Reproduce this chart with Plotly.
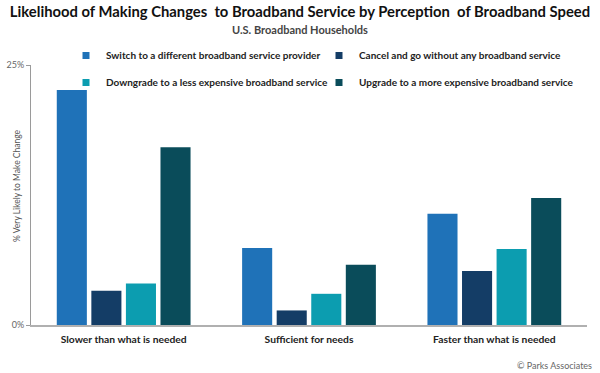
import plotly.graph_objects as go

categories = ["Slower than what is needed", "Sufficient for needs", "Faster than what is needed"]
series_names = [
    "Switch to a different broadband service provider",
    "Cancel and go without any broadband service",
    "Downgrade to a less expensive broadband service",
    "Upgrade to a more expensive broadband service",
]
switch_vals = [22.6, 7.4, 10.7]
cancel_vals = [3.3, 1.4, 5.2]
downgrade_vals = [4.0, 3.0, 7.3]
upgrade_vals = [17.1, 5.8, 12.2]
colors = ["#1f72b8", "#143d66", "#0c9db0", "#0a4c5a"]
y_tickvals = [0, 25]
y_ticktext = ["0%", "25%"]

series_vals = [switch_vals, cancel_vals, downgrade_vals, upgrade_vals]
legend_of = ["legend", "legend2", "legend", "legend2"]

W, H = 600, 373
ML, MR, MT, MB = 31, 13, 65, 48
PW, PH = W - ML - MR, H - MT - MB


def px_x(px):
    return (px - ML) / PW


def px_y(py):
    return (H - MB - py) / PH


fig = go.Figure()
for name, vals, col in zip(series_names, series_vals, colors):
    fig.add_trace(go.Bar(x=categories, y=vals, name=name, marker_color=col,
                         marker_line_width=0, showlegend=False))
# legend-only swatches (small squares like the reference)
for i, (name, col) in enumerate(zip(series_names, colors)):
    fig.add_trace(go.Scatter(x=[categories[0]], y=[None], mode="markers", name=name,
                             marker=dict(symbol="square", size=7, color=col),
                             legend=legend_of[i], legendgroup=f"g{i}", showlegend=True,
                             hoverinfo="skip"))

legend_font = dict(family="Lato", size=10, color="#222222", weight="bold")
fig.update_layout(
    width=W, height=H,
    margin=dict(l=ML, r=MR, t=MT, b=MB, autoexpand=False),
    paper_bgcolor="white", plot_bgcolor="white",
    barmode="group", bargap=0.254, bargroupgap=0.13,
    title=dict(text="Likelihood of Making Changes  to Broadband Service by Perception  of Broadband Speed",
               x=0.5, xanchor="center", y=1 - 12 / H, yanchor="middle",
               font=dict(family="Lato", size=14.8, color="#111111", weight="bold")),
    legend=dict(xref="container", yref="container", x=66 / W, y=1 - 41 / H,
                xanchor="left", yanchor="top", orientation="v",
                font=legend_font, tracegroupgap=8, bgcolor="rgba(0,0,0,0)",
                itemwidth=30),
    legend2=dict(xref="container", yref="container", x=319 / W, y=1 - 41 / H,
                 xanchor="left", yanchor="top", orientation="v",
                 font=legend_font, tracegroupgap=8, bgcolor="rgba(0,0,0,0)",
                 itemwidth=30),
    xaxis=dict(type="category", categoryorder="array", categoryarray=categories,
               showline=True, linecolor="#b0b0b0", linewidth=1.5, ticks="",
               ticklabelstandoff=4,
               tickfont=dict(family="Lato", size=10.3, color="#222222", weight="bold"),
               showgrid=False, zeroline=False),
    yaxis=dict(range=[0, 25], showline=True, linecolor="#9a9a9a", linewidth=1,
               ticks="outside", ticklen=4, tickcolor="#9a9a9a",
               tickvals=y_tickvals, ticktext=y_ticktext,
               tickfont=dict(family="Lato", size=9, color="#666666"),
               showgrid=False, zeroline=False),
    annotations=[
        dict(text="U.S. Broadband Households", xref="paper", yref="paper",
             x=px_x(300), xanchor="center", y=px_y(29), yanchor="middle",
             showarrow=False, font=dict(family="Lato", size=11, color="#444444", weight="bold")),
        dict(text="% Very Likely to Make Change", xref="paper", yref="paper",
             x=px_x(17), y=px_y(186), xanchor="center", yanchor="middle", textangle=-90,
             showarrow=False, font=dict(family="Lato", size=8.5, color="#555555")),
        dict(text="© Parks Associates", xref="paper", yref="paper",
             x=px_x(594), y=px_y(365), xanchor="right", yanchor="middle",
             showarrow=False, font=dict(family="Lato", size=9, color="#666666")),
    ],
)
fig.write_html("out.html", config={"displayModeBar": False},
               post_script="document.body.style.margin='0';")
